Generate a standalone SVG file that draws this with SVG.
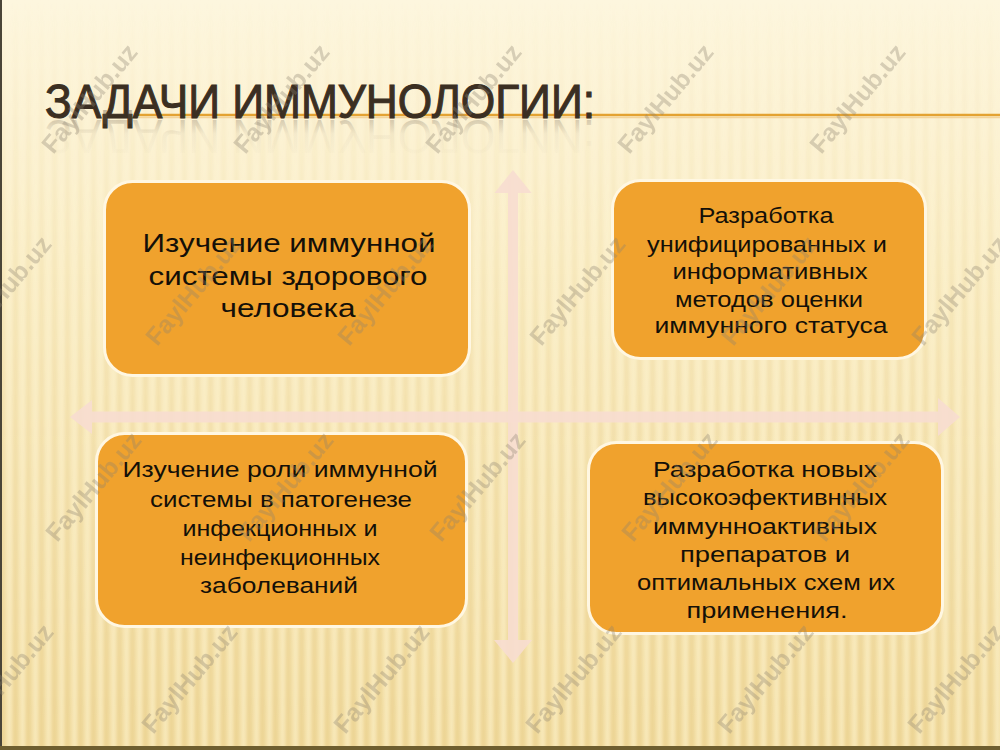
<svg xmlns="http://www.w3.org/2000/svg" width="1000" height="750" viewBox="0 0 1000 750">
  <defs>
    <linearGradient id="bg" x1="0" y1="0" x2="0" y2="1">
      <stop offset="0" stop-color="#FDF6DE"/>
      <stop offset="0.35" stop-color="#FBEFC8"/>
      <stop offset="1" stop-color="#F4E0A6"/>
    </linearGradient>
    <pattern id="stripes" x="0" y="0" width="13" height="750" patternUnits="userSpaceOnUse">
      <rect x="0" y="0" width="5" height="750" fill="#E2C27A"/>
      <rect x="8" y="0" width="3" height="750" fill="#FFF8DF"/>
    </pattern>
    <filter id="soft" x="0" y="0" width="1" height="1">
      <feGaussianBlur stdDeviation="1.6"/>
    </filter>
    <linearGradient id="stripeFade" x1="0" y1="0" x2="0" y2="1">
      <stop offset="0" stop-color="#fff" stop-opacity="0"/>
      <stop offset="0.1" stop-color="#fff" stop-opacity="0.05"/>
      <stop offset="0.5" stop-color="#fff" stop-opacity="0.22"/>
      <stop offset="1" stop-color="#fff" stop-opacity="0.4"/>
    </linearGradient>
    <mask id="stripeMask">
      <rect x="0" y="0" width="1000" height="750" fill="url(#stripeFade)"/>
    </mask>
    <linearGradient id="reflect" x1="0" y1="0" x2="0" y2="1">
      <stop offset="0" stop-color="#6a5a48" stop-opacity="0"/>
      <stop offset="0.55" stop-color="#6a5a48" stop-opacity="0.05"/>
      <stop offset="1" stop-color="#6a5a48" stop-opacity="0.4"/>
    </linearGradient>
    <style>
      .box { fill: #F0A22D; stroke: #FFF7E2; stroke-width: 3; }
      .txt { font-family: "Liberation Sans", "DejaVu Sans", Arial, sans-serif; fill: #141008; text-anchor: middle; }
      .t1 { font-size: 25px; }
      .t2 { font-size: 22px; }
      .title { font-family: "Liberation Sans", Arial, sans-serif; font-size: 48px; fill: #3B2F22; stroke: #3B2F22; stroke-width: 1.1; }
      .arrow { fill: #F7DDD0; opacity: 0.9; }
      .wm { font-family: "Liberation Sans", Arial, sans-serif; font-weight: bold; font-size: 25px; fill: #8C8270; opacity: 0.33; text-anchor: middle; }
    </style>
  </defs>

  <!-- background -->
  <rect x="0" y="0" width="1000" height="750" fill="url(#bg)"/>
  <g mask="url(#stripeMask)">
    <rect x="0" y="0" width="1000" height="750" fill="url(#stripes)" filter="url(#soft)"/>
  </g>
  <rect x="0" y="0" width="2" height="750" fill="#4A4538"/>
  <rect x="0" y="746" width="1000" height="4" fill="#6E5E30"/>

  <!-- title -->
  <g id="title">
    <line x1="135" y1="115" x2="1000" y2="115" stroke="#E3A232" stroke-width="2.5"/>
    <line x1="135" y1="117.5" x2="1000" y2="117.5" stroke="#F3D49A" stroke-width="1.5"/>
    <text class="title" x="45" y="118" textLength="550" lengthAdjust="spacingAndGlyphs">ЗАДАЧИ ИММУНОЛОГИИ:</text>
    <text x="45" y="118" font-family="Liberation Sans, Arial, sans-serif" font-size="48" fill="url(#reflect)" textLength="550" lengthAdjust="spacingAndGlyphs" transform="translate(0,238) scale(1,-1)">ЗАДАЧИ ИММУНОЛОГИИ:</text>
  </g>

  <!-- connectors -->
  <g id="connectors">
    <path class="arrow" d="M513 170 L531.5 193 L518 193 L518 640 L532 640 L513 663 L494 640 L508 640 L508 193 L494.5 193 Z"/>
    <path class="arrow" d="M70 417 L92 400 L92 411.5 L938 411.5 L938 398 L960 417 L938 436 L938 422.5 L92 422.5 L92 434 Z"/>
  </g>

  <!-- nodes -->
  <g id="node-1">
    <rect class="box" x="104.5" y="181.5" width="365" height="194" rx="28"/>
    <text class="txt t1" x="289" y="252" textLength="293" lengthAdjust="spacingAndGlyphs">Изучение иммунной</text>
    <text class="txt t1" x="288" y="285" textLength="279" lengthAdjust="spacingAndGlyphs">системы здорового</text>
    <text class="txt t1" x="288" y="317" textLength="135" lengthAdjust="spacingAndGlyphs">человека</text>
  </g>

  <g id="node-2">
    <rect class="box" x="612.5" y="180.5" width="313" height="178" rx="28"/>
    <text class="txt t2" x="766" y="223" textLength="135" lengthAdjust="spacingAndGlyphs">Разработка</text>
    <text class="txt t2" x="767" y="252" textLength="240" lengthAdjust="spacingAndGlyphs">унифицированных и</text>
    <text class="txt t2" x="770" y="279" textLength="195" lengthAdjust="spacingAndGlyphs">информативных</text>
    <text class="txt t2" x="769" y="307" textLength="188" lengthAdjust="spacingAndGlyphs">методов оценки</text>
    <text class="txt t2" x="771" y="333" textLength="233" lengthAdjust="spacingAndGlyphs">иммунного статуса</text>
  </g>

  <g id="node-3">
    <rect class="box" x="96.5" y="433.5" width="370" height="193" rx="28"/>
    <text class="txt t2" x="280" y="477" textLength="315" lengthAdjust="spacingAndGlyphs">Изучение роли  иммунной</text>
    <text class="txt t2" x="281" y="507" textLength="262" lengthAdjust="spacingAndGlyphs">системы в патогенезе</text>
    <text class="txt t2" x="280" y="536" textLength="195" lengthAdjust="spacingAndGlyphs">инфекционных и</text>
    <text class="txt t2" x="280" y="565" textLength="200" lengthAdjust="spacingAndGlyphs">неинфекционных</text>
    <text class="txt t2" x="279" y="593" textLength="158" lengthAdjust="spacingAndGlyphs">заболеваний</text>
  </g>

  <g id="node-4">
    <rect class="box" x="588.5" y="442.5" width="354" height="191" rx="28"/>
    <text class="txt t2" x="765" y="477" textLength="224" lengthAdjust="spacingAndGlyphs">Разработка новых</text>
    <text class="txt t2" x="765" y="505" textLength="244" lengthAdjust="spacingAndGlyphs">высокоэфективнных</text>
    <text class="txt t2" x="765" y="534" textLength="224" lengthAdjust="spacingAndGlyphs">иммунноактивных</text>
    <text class="txt t2" x="765" y="562" textLength="170" lengthAdjust="spacingAndGlyphs">препаратов  и</text>
    <text class="txt t2" x="766" y="590" textLength="258" lengthAdjust="spacingAndGlyphs">оптимальных схем их</text>
    <text class="txt t2" x="767" y="618" textLength="161" lengthAdjust="spacingAndGlyphs">применения.</text>
  </g>

  <!-- watermarks -->
  <g id="watermarks">
    <text class="wm" transform="translate(96,104) rotate(-50)">FaylHub.uz</text>
    <text class="wm" transform="translate(288,104) rotate(-50)">FaylHub.uz</text>
    <text class="wm" transform="translate(480,104) rotate(-50)">FaylHub.uz</text>
    <text class="wm" transform="translate(672,104) rotate(-50)">FaylHub.uz</text>
    <text class="wm" transform="translate(864,104) rotate(-50)">FaylHub.uz</text>
    <text class="wm" transform="translate(10,296) rotate(-50)">FaylHub.uz</text>
    <text class="wm" transform="translate(200,296) rotate(-50)">FaylHub.uz</text>
    <text class="wm" transform="translate(392,296) rotate(-50)">FaylHub.uz</text>
    <text class="wm" transform="translate(584,296) rotate(-50)">FaylHub.uz</text>
    <text class="wm" transform="translate(776,296) rotate(-50)">FaylHub.uz</text>
    <text class="wm" transform="translate(966,296) rotate(-50)">FaylHub.uz</text>
    <text class="wm" transform="translate(100,492) rotate(-50)">FaylHub.uz</text>
    <text class="wm" transform="translate(292,492) rotate(-50)">FaylHub.uz</text>
    <text class="wm" transform="translate(484,492) rotate(-50)">FaylHub.uz</text>
    <text class="wm" transform="translate(676,492) rotate(-50)">FaylHub.uz</text>
    <text class="wm" transform="translate(868,492) rotate(-50)">FaylHub.uz</text>
    <text class="wm" transform="translate(12,684) rotate(-50)">FaylHub.uz</text>
    <text class="wm" transform="translate(196,684) rotate(-50)">FaylHub.uz</text>
    <text class="wm" transform="translate(388,684) rotate(-50)">FaylHub.uz</text>
    <text class="wm" transform="translate(580,684) rotate(-50)">FaylHub.uz</text>
    <text class="wm" transform="translate(772,684) rotate(-50)">FaylHub.uz</text>
    <text class="wm" transform="translate(962,684) rotate(-50)">FaylHub.uz</text>
  </g>
</svg>
